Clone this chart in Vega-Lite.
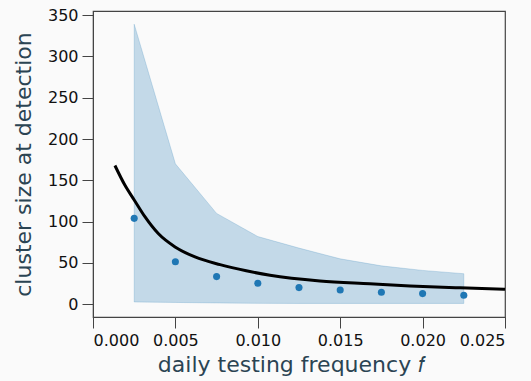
{
  "$schema": "https://vega.github.io/schema/vega-lite/v6.json",
  "width": 412,
  "height": 306,
  "autosize": {"type": "none"},
  "padding": {"left": 93, "top": 11, "right": 26, "bottom": 64},
  "background": "#fafafa",
  "config": {
    "view": {"stroke": "#444444", "strokeWidth": 1.2},
    "axis": {
      "grid": false,
      "domainColor": "#444444",
      "tickColor": "#444444",
      "tickSize": 11,
      "labelFont": "DejaVu Sans",
      "labelFontSize": 16,
      "labelColor": "#111111",
      "labelPadding": 4,
      "titleFont": "DejaVu Sans",
      "titleFontSize": 22,
      "titleFontWeight": "normal",
      "titleColor": "#2b4453"
    }
  },
  "datasets": {
    "band": [
      {"f": 0.0025, "lo": 2.8, "hi": 339},
      {"f": 0.005, "lo": 2.2, "hi": 170},
      {"f": 0.0075, "lo": 1.6, "hi": 110},
      {"f": 0.01, "lo": 1.1, "hi": 82},
      {"f": 0.0125, "lo": 1.0, "hi": 68},
      {"f": 0.015, "lo": 1.0, "hi": 55},
      {"f": 0.0175, "lo": 1.0, "hi": 46.5},
      {"f": 0.02, "lo": 1.0, "hi": 41},
      {"f": 0.0225, "lo": 1.0, "hi": 37}
    ],
    "pts": [
      {"f": 0.0025, "size": 104},
      {"f": 0.005, "size": 51.5},
      {"f": 0.0075, "size": 33.5},
      {"f": 0.01, "size": 25.4},
      {"f": 0.0125, "size": 20.2},
      {"f": 0.015, "size": 17.3},
      {"f": 0.0175, "size": 14.5},
      {"f": 0.02, "size": 12.9},
      {"f": 0.0225, "size": 10.9}
    ],
    "curve": [
      {"f": 0.00133, "size": 168},
      {"f": 0.00194, "size": 144},
      {"f": 0.00251, "size": 126},
      {"f": 0.00316, "size": 105.7},
      {"f": 0.00396, "size": 85.6},
      {"f": 0.00498, "size": 69.4},
      {"f": 0.00619, "size": 57.3},
      {"f": 0.00771, "size": 48},
      {"f": 0.0093, "size": 40.5},
      {"f": 0.01074, "size": 35.1},
      {"f": 0.01377, "size": 28.2},
      {"f": 0.0168, "size": 24.8},
      {"f": 0.01924, "size": 22.2},
      {"f": 0.02227, "size": 19.9},
      {"f": 0.025, "size": 18.2}
    ]
  },
  "encoding": {
    "x": {
      "field": "f",
      "type": "quantitative",
      "scale": {"domain": [0, 0.025], "nice": false, "zero": false},
      "axis": {"values": [0, 0.005, 0.01, 0.015, 0.02, 0.025], "format": ".3f", "title": "daily testing frequency 𝑓", "titlePadding": 6, "titleX": 198, "titleAlign": "center"}
    }
  },
  "layer": [
    {
      "data": {"name": "band"},
      "mark": {"type": "area", "color": "#1f77b4", "fillOpacity": 0.25, "stroke": "#1f77b4", "strokeOpacity": 0.2, "strokeWidth": 1},
      "encoding": {
        "y": {
          "field": "hi",
          "type": "quantitative",
          "scale": {"domain": [-15.4, 355], "nice": false, "zero": false},
          "axis": {"values": [0, 50, 100, 150, 200, 250, 300, 350], "title": "cluster size at detection", "titlePadding": 12}
        },
        "y2": {"field": "lo"}
      }
    },
    {
      "data": {"name": "curve"},
      "mark": {"type": "line", "color": "black", "strokeWidth": 3, "interpolate": "monotone"},
      "encoding": {"y": {"field": "size", "type": "quantitative"}}
    },
    {
      "data": {"name": "pts"},
      "mark": {"type": "circle", "color": "#1f77b4", "opacity": 1, "size": 50},
      "encoding": {"y": {"field": "size", "type": "quantitative"}}
    }
  ]
}
